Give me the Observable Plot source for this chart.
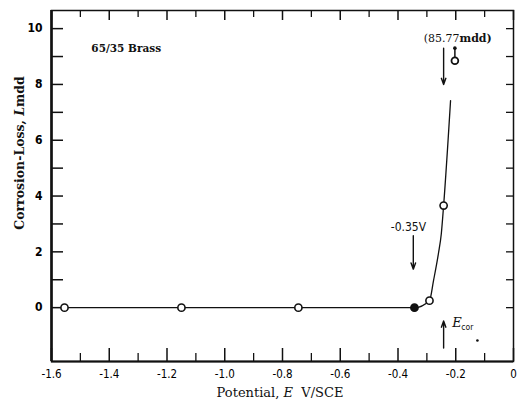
<!DOCTYPE html>
<html><head><meta charset="utf-8">
<script src="https://cdn.jsdelivr.net/npm/d3@7"></script>
<script src="https://cdn.jsdelivr.net/npm/@observablehq/plot@0.6"></script>
<style>body{margin:0;background:#fff} svg text{-webkit-font-smoothing:antialiased}</style>
</head><body><div id="chart"></div>
<script>
// Fitted curve
const curveE = [-1.555, -1.15, -0.745, -0.343, -0.291, -0.277, -0.26, -0.25, -0.242, -0.218];
const curveL = [0, 0, 0, 0, 0.25, 0.97, 1.94, 2.65, 3.66, 7.42];
// Measured points
const pointE = [-1.555, -1.15, -0.745, -0.343, -0.291, -0.242];
const pointL = [0, 0, 0, 0, 0.25, 3.66];
const pointFilled = [false, false, false, true, false, false];
// Off-scale point (85.77 mdd)
const offE = -0.203, offL = 8.85, offTopL = 9.3;
// Tick values
const xMajor = [-1.6, -1.4, -1.2, -1.0, -0.8, -0.6, -0.4, -0.2, 0];
const xMinor = [-1.5, -1.3, -1.1, -0.9, -0.7, -0.5, -0.3, -0.1];
const yMajor = [0, 2, 4, 6, 8, 10];
const yAll = [0, 1, 2, 3, 4, 5, 6, 7, 8, 9, 10];

const curve = curveE.map((e, i) => ({e, l: curveL[i]}));
const pts = pointE.map((e, i) => ({e, l: pointL[i], filled: pointFilled[i]}));
const fmtX = d => d === 0 ? "0" : d.toFixed(1);

const serif = "'DejaVu Serif', serif";
const cond = "'DejaVu Sans Condensed', 'DejaVu Sans', sans-serif";

const W = 523, H = 405, mL = 51, mR = 10, mT = 10, mB = 44;
const fw = W - mL - mR, fh = H - mT - mB;

const chart = Plot.plot({
  width: W, height: H,
  marginLeft: mL, marginRight: mR, marginTop: mT, marginBottom: mB,
  x: {domain: [-1.6, 0]},
  y: {domain: [-1.93, 10.65]},
  style: {fontFamily: cond, background: "#fff", color: "#000"},
  marks: [
    // inward ticks
    Plot.tickX(xMajor, {x: d => d, insetTop: fh - 13, stroke: "#111", strokeWidth: 1.5}),
    Plot.tickX(xMinor, {x: d => d, insetTop: fh - 8, stroke: "#111", strokeWidth: 1.3}),
    Plot.tickX(xMajor, {x: d => d, insetBottom: fh - 10, stroke: "#111", strokeWidth: 1.5}),
    Plot.tickX(xMinor, {x: d => d, insetBottom: fh - 7, stroke: "#111", strokeWidth: 1.3}),
    Plot.tickY(yAll, {y: d => d, insetRight: fw - 12, stroke: "#111", strokeWidth: 1.5}),
    Plot.tickY(yAll, {y: d => d, insetLeft: fw - 7, stroke: "#111", strokeWidth: 1.3}),
    Plot.frame({stroke: "#111", strokeWidth: 1.5}),
    Plot.ruleX([-1.6], {stroke: "#111", strokeWidth: 2.6}),
    Plot.ruleY([-1.93], {stroke: "#111", strokeWidth: 2.2}),
    // tick labels
    Plot.axisX({anchor: "bottom", ticks: xMajor, tickSize: 0, tickPadding: 8, tickFormat: fmtX, label: null, fontSize: 11.5}),
    Plot.axisY({anchor: "left", ticks: yMajor, tickSize: 0, tickPadding: 9, label: null, fontSize: 12, fontWeight: "bold"}),
    // curve
    Plot.line(curve, {x: "e", y: "l", curve: "monotone-x", stroke: "#111", strokeWidth: 1.3}),
    Plot.dot(pts, {x: "e", y: "l", r: 3.6, fill: d => d.filled ? "#111" : "#fff", stroke: "#111", strokeWidth: 1.6}),
    // off-scale marker
    Plot.link([{x: offE, y1: offL, y2: offTopL}], {x1: "x", x2: "x", y1: "y1", y2: "y2", stroke: "#111", strokeWidth: 1.5}),
    Plot.dot([{x: offE, y: offTopL}], {x: "x", y: "y", r: 1.8, fill: "#111"}),
    Plot.dot([{x: offE, y: offL}], {x: "x", y: "y", r: 3.4, fill: "#fff", stroke: "#111", strokeWidth: 1.8}),
    // arrows
    Plot.arrow([
      {x1: -0.347, y1: 2.58, x2: -0.347, y2: 1.38},
      {x1: -0.242, y1: 9.3, x2: -0.242, y2: 8.0},
      {x1: -0.242, y1: -1.45, x2: -0.242, y2: -0.48}
    ], {x1: "x1", y1: "y1", x2: "x2", y2: "y2", stroke: "#111", strokeWidth: 1.4, headLength: 7, headAngle: 40}),
    // annotations
    Plot.text([{x: -1.462, y: 9.3, t: "65/35 Brass"}], {x: "x", y: "y", text: "t", textAnchor: "start", fontFamily: serif, fontWeight: "bold", fontSize: 10.5, fill: "#111"}),
    Plot.text([{x: -0.364, y: 2.9, t: "-0.35V"}], {x: "x", y: "y", text: "t", fontFamily: cond, fontSize: 12, fill: "#111"}),
    Plot.text([{x: -0.187, y: 9.64, t: "(85.77"}], {x: "x", y: "y", text: "t", textAnchor: "end", fontFamily: serif, fontSize: 11, fill: "#111"}),
    Plot.text([{x: -0.187, y: 9.64, t: "mdd)"}], {x: "x", y: "y", text: "t", textAnchor: "start", fontFamily: serif, fontWeight: "bold", fontSize: 11, fill: "#111"}),
    Plot.text([{x: -0.212, y: -0.55, t: "E"}], {x: "x", y: "y", text: "t", textAnchor: "start", fontFamily: serif, fontStyle: "italic", fontSize: 13, fill: "#111"}),
    Plot.text([{x: -0.212, y: -0.7, t: "cor"}], {x: "x", y: "y", text: "t", textAnchor: "start", dx: 9, fontFamily: cond, fontSize: 8.5, fill: "#111"}),
    Plot.dot([{x: -0.125, y: -1.18}], {x: "x", y: "y", r: 1.3, fill: "#111"})
  ]
});
document.getElementById("chart").appendChild(chart);

const svg = d3.select(chart);
// x axis title
const xt = svg.append("text").attr("x", 280).attr("y", 397).attr("text-anchor", "middle")
  .attr("font-family", serif).attr("font-size", 13).attr("fill", "#111");
xt.append("tspan").text("Potential, ");
xt.append("tspan").attr("font-style", "italic").text("E");
xt.append("tspan").attr("xml:space", "preserve").text("  V/SCE");
// y axis title
const yt = svg.append("text").attr("transform", "translate(24,153) rotate(-90)").attr("text-anchor", "middle")
  .attr("font-family", serif).attr("font-size", 12.5).attr("font-weight", "bold").attr("fill", "#111")
  .attr("opacity", 0.999);
yt.append("tspan").text("Corrosion-Loss, ");
yt.append("tspan").attr("font-style", "italic").text("L");
yt.append("tspan").text("mdd");
</script>
</body></html>
